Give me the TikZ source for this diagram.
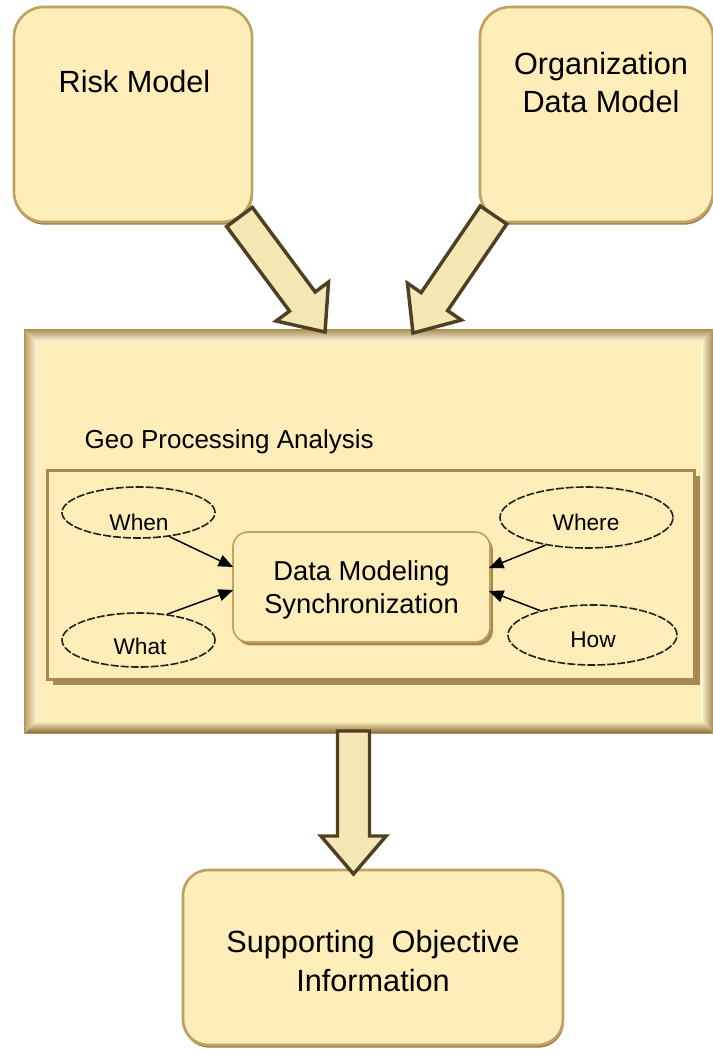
\documentclass[tikz,border=0pt]{standalone}
\usepackage{fontspec}
\setmainfont{Liberation Sans}
\usetikzlibrary{arrows.meta,calc,shapes.geometric,shadows}

\definecolor{boxfill}{HTML}{FDEDB9}
\definecolor{frameline}{HTML}{BFA263}
\definecolor{shadowcol}{HTML}{9A7D45}
\definecolor{arrowfill}{HTML}{F3E7B3}
\definecolor{arrowline}{HTML}{4F4024}
\definecolor{insetline}{HTML}{A48A52}
\definecolor{ovalline}{HTML}{24211B}

% block arrow with a straight tail from #1 to the tip at #2
\newcommand{\blockarrow}[2]{%
  \path ($(#2)!28.5pt!(#1)$) coordinate (ba-base);
  \draw[fatbody]
    ($(#1)!12pt!90:(#2)$) -- ($(ba-base)!12pt!90:(#2)$) --
    ($(ba-base)!24.5pt!90:(#2)$) -- (#2) --
    ($(ba-base)!24.5pt!-90:(#2)$) -- ($(ba-base)!12pt!-90:(#2)$) --
    ($(#1)!12pt!-90:(#2)$) -- cycle;
}

\tikzset{
  bigfont/.style={font=\fontsize{23}{28.5}\selectfont},
  topbox/.style={draw=frameline, line width=2pt, fill=boxfill,
    rounded corners=22.5pt, inner sep=0pt,
    general shadow={fill=shadowcol, shadow xshift=0.6pt, shadow yshift=-2pt}},
  dmsbox/.style={draw=frameline, line width=1.2pt, fill=boxfill,
    rounded corners=11.25pt, inner sep=0pt,
    general shadow={fill=insetline, shadow xshift=2.2pt, shadow yshift=-2.6pt}},
  insetbox/.style={draw=insetline, line width=2.6pt, fill=boxfill, inner sep=0pt,
    general shadow={fill=insetline, shadow xshift=4pt, shadow yshift=-4pt}},
  oval/.style={ellipse, draw=ovalline, line width=1.2pt,
    dash pattern=on 6pt off 1.5pt, inner sep=0pt},
  ovaltext/.style={anchor=base, font=\fontsize{17}{20}\selectfont},
  fatbody/.style={draw=arrowline, fill=arrowfill, line width=2.6pt, line join=miter},
  link/.style={draw=black, line width=1.1pt, -{Triangle[length=11pt,width=9pt]}}
}

\begin{document}
\begin{tikzpicture}[x=0.75pt,y=-0.75pt]
\useasboundingbox (0,0) rectangle (713,1050);

% input boxes
\node[topbox, minimum width=178.5pt, minimum height=161.25pt] (risk) at (133,114.5) {};
\node[bigfont, anchor=base] (risklbl) at (134.5,92) {Risk Model};

\node[topbox, minimum width=174.75pt, minimum height=161.25pt] (org) at (596.5,114.5) {};
\node[bigfont, align=center] (orglbl) at (601,83) {Organization\\Data Model};

% bevelled processing frame
\node[minimum width=516pt, minimum height=302.25pt, inner sep=0pt] (geo) at (369,531.5) {};
\fill[boxfill] (geo.north west) rectangle (geo.south east);
\shade[top color=frameline!90!black, bottom color=white!60!boxfill]
  (geo.north west) -- (geo.north east) -- ($(geo.north east)+(-12,12)$) -- ($(geo.north west)+(12,12)$) -- cycle;
\shade[left color=frameline, right color=white!55!boxfill]
  (geo.north west) -- ($(geo.north west)+(12,12)$) -- ($(geo.south west)+(12,-12)$) -- (geo.south west) -- cycle;
\shade[left color=white!40!boxfill, right color=frameline!85!black]
  (geo.north east) -- (geo.south east) -- ($(geo.south east)+(-12,-12)$) -- ($(geo.north east)+(-12,12)$) -- cycle;
\shade[top color=boxfill, bottom color=shadowcol!85!black]
  (geo.south west) -- (geo.south east) -- ($(geo.south east)+(-12,-12)$) -- ($(geo.south west)+(12,-12)$) -- cycle;
\fill[boxfill] ($(geo.north west)+(12,12)$) rectangle ($(geo.south east)+(-12,-12)$);
\draw[frameline!90!black, line width=0.8pt] (geo.north west) rectangle (geo.south east);

\node[anchor=base west, font=\fontsize{19.5}{23}\selectfont] (geolbl) at (80,448) {Geo Processing Analysis};

\node[insetbox, minimum width=485.25pt, minimum height=156.75pt] (inset) at (371,575) {};

% central synchronisation box
\node[dmsbox, minimum width=192.75pt, minimum height=82.5pt] (dms) at (361.5,587) {};
\node[align=center, font=\fontsize{20.5}{24.75}\selectfont] (dmslbl) at (361.5,589.5) {Data Modeling\\Synchronization};

% question ovals
\node[oval, minimum width=114.75pt, minimum height=38.25pt] (when) at (138.5,512.5) {};
\node[ovaltext] (whenlbl) at (139,530) {When};
\node[oval, minimum width=114.75pt, minimum height=40.5pt] (what) at (138.5,640) {};
\node[ovaltext] (whatlbl) at (140,654) {What};
\node[oval, minimum width=129.75pt, minimum height=45.75pt] (where) at (586.5,517.5) {};
\node[ovaltext] (wherelbl) at (586,530) {Where};
\node[oval, minimum width=126.75pt, minimum height=45pt] (how) at (592.5,635) {};
\node[ovaltext] (howlbl) at (593,647) {How};

\draw[link] (when.-38) -- ($(dms.west)+(1,-20)$);
\draw[link] (what.42) -- ($(dms.west)+(1,3)$);
\draw[link] (where.-146) -- ($(dms.east)+(-2,-19)$);
\draw[link] (how.155) -- ($(dms.east)+(-2,4)$);

% output box
\node[topbox, rounded corners=19pt, minimum width=285pt, minimum height=131.25pt] (out) at (373,957.5) {};
\node[align=center, font=\fontsize{23}{29.5}\selectfont] (outlbl) at (373,961) {Supporting~~Objective\\Information};

% block arrows between the stages
\coordinate (r-tail) at (239.5,217);
\coordinate (r-tip) at (325,332);
\coordinate (o-tail) at (493.5,215);
\coordinate (o-tip) at (413,333);
\coordinate (g-tail) at (353.5,731);
\coordinate (g-tip) at (353.5,874);
\blockarrow{r-tail}{r-tip}
\blockarrow{o-tail}{o-tip}
\blockarrow{g-tail}{g-tip}
\end{tikzpicture}
\end{document}
